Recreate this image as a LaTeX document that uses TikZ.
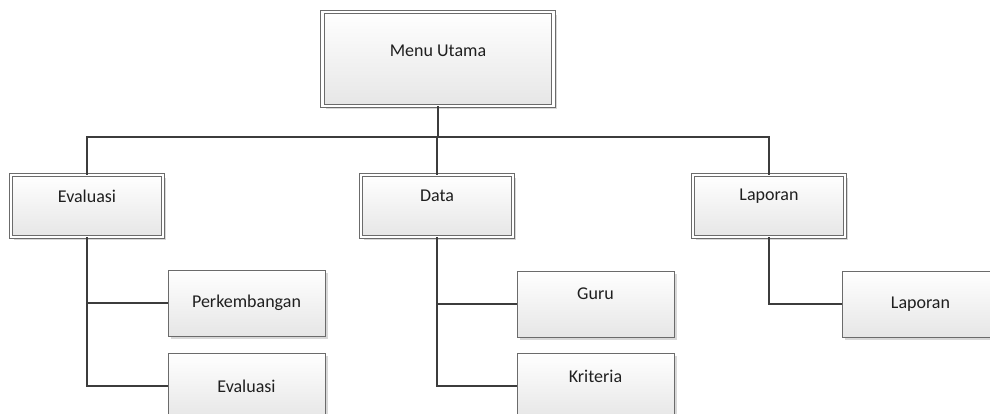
\documentclass[tikz,border=0pt]{standalone}
\usepackage{fontspec}
\setmainfont{Carlito}
\usetikzlibrary{shadows}
\definecolor{boxline}{HTML}{6B6B6B}
\definecolor{wire}{HTML}{3C3C3C}
\definecolor{boxlow}{HTML}{E6E6E6}
\definecolor{shade}{HTML}{D8D8D8}
\begin{document}
\begin{tikzpicture}[x=1pt,y=-1pt,
  basebox/.style={rectangle, draw=boxline, line width=0.9pt,
    top color=white, bottom color=boxlow, inner sep=0pt,
    drop shadow={shadow xshift=3pt, shadow yshift=-3pt, fill=shade, opacity=1}},
  mainbox/.style={basebox, double=white, double distance=2.6pt},
  leafbox/.style={basebox, minimum width=157pt, minimum height=66pt},
  groupbox/.style={mainbox, minimum width=152pt, minimum height=62pt},
  label text/.style={font=\fontsize{18}{20}\selectfont, text=black!88, inner sep=0pt},
  wire line/.style={draw=wire, line width=2pt}]
\clip (0,0) rectangle (990,414);
\fill[white] (0,0) rectangle (990,414);

% root
\node[mainbox, minimum width=231pt, minimum height=94pt] (menu) at (438,59) {};
\node[label text] (t-menu) at ([yshift=8pt]menu.center) {Menu Utama};

% second level
\node[groupbox] (eval) at (87,206) {};
\node[groupbox] (data) at (437,206) {};
\node[groupbox] (lap)  at (769,206) {};
\node[label text] (t-eval) at ([yshift=10pt]eval.center) {Evaluasi};
\node[label text] (t-data) at ([yshift=10pt]data.center) {Data};
\node[label text] (t-lap)  at ([yshift=10pt]lap.center) {Laporan};

% leaves
\node[leafbox] (perk)  at (246.5,303) {};
\node[leafbox] (eval2) at (246.5,386) {};
\node[leafbox] (guru)  at (595.5,304) {};
\node[leafbox] (krit)  at (595.5,386) {};
\node[leafbox] (lap2)  at (920.5,304) {};
\node[label text] (t-perk)  at (perk.center) {Perkembangan};
\node[label text] (t-eval2) at (eval2.center) {Evaluasi};
\node[label text] (t-guru)  at ([yshift=10pt]guru.center) {Guru};
\node[label text] (t-krit)  at ([yshift=10pt]krit.center) {Kriteria};
\node[label text] (t-lap2)  at (lap2.center) {Laporan};

% connectors
\coordinate (bus) at (437,137);
\draw[wire line] (menu.south) -- (menu.south |- bus);
\draw[wire line] (eval.north) |- (bus) -| (lap.north);
\draw[wire line] (data.north) -- (data.north |- bus);
\draw[wire line] (eval.south) |- (eval2.west);
\draw[wire line] (eval.south |- perk.west) -- (perk.west);
\draw[wire line] (data.south) |- (krit.west);
\draw[wire line] (data.south |- guru.west) -- (guru.west);
\draw[wire line] (lap.south) |- (lap2.west);
\end{tikzpicture}
\end{document}
